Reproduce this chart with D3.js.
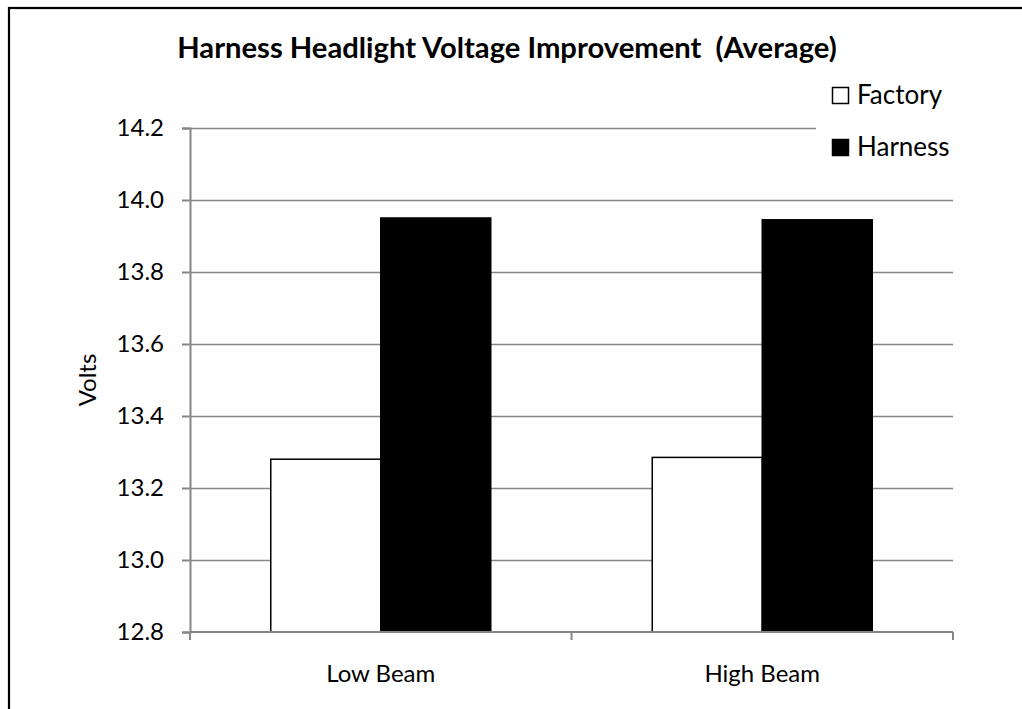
<!DOCTYPE html>
<html><head><meta charset="utf-8">
<script src="https://cdn.jsdelivr.net/npm/d3@7"></script>
<style>body{margin:0;background:#fff;} svg{display:block;} text{white-space:pre;}</style>
</head><body>
<script>
const categories = ["Low Beam", "High Beam"];
const seriesNames = ["Factory", "Harness"];
const factoryValues = [13.28, 13.285];
const harnessValues = [13.95, 13.945];
const yTicks = [12.8, 13.0, 13.2, 13.4, 13.6, 13.8, 14.0, 14.2];
const titleText = "Harness Headlight Voltage Improvement  (Average)";
const yLabel = "Volts";

const W = 1022, H = 709;
const FONT = "Lato, 'Liberation Sans', sans-serif";
const svg = d3.select("body").append("svg").attr("width", W).attr("height", H);
svg.append("rect").attr("width", W).attr("height", H).attr("fill", "#fff");
// outer border
svg.append("rect").attr("x", 9).attr("y", 8).attr("width", W + 20).attr("height", H + 20)
  .attr("fill", "none").attr("stroke", "#000").attr("stroke-width", 2.2);

const L = 190, R = 953, T = 128, B = 632;
const y = d3.scaleLinear().domain([12.8, 14.2]).range([B, T]);
const x0 = d3.scaleBand().domain(categories).range([L, R]).paddingInner(0).paddingOuter(0);
const barW = 110;
const x1 = d3.scaleBand().domain(seriesNames).range([0, barW * 2]);
const off = (x0.bandwidth() - barW * 2) / 2;
const gray = "#868686";

// gridlines
svg.append("g").selectAll("line").data(yTicks.slice(1)).join("line")
  .attr("x1", L).attr("x2", R).attr("y1", d => Math.round(y(d)) + 0.5).attr("y2", d => Math.round(y(d)) + 0.5)
  .attr("stroke", gray).attr("stroke-width", 1.6);

// bars
const data = categories.map((c, i) => ({c, vals: [factoryValues[i], harnessValues[i]]}));
const fills = ["#fff", "#000"];
const g = svg.append("g");
data.forEach(d => {
  d.vals.forEach((v, j) => {
    g.append("rect")
      .attr("x", x0(d.c) + off + x1(seriesNames[j]))
      .attr("y", y(v))
      .attr("width", x1.bandwidth())
      .attr("height", y(12.8) - y(v))
      .attr("fill", fills[j]).attr("stroke", "#000").attr("stroke-width", 1.5);
  });
});

// y axis
const yAxis = d3.axisLeft(y).tickValues(yTicks).tickFormat(d3.format(".1f")).tickSize(8).tickPadding(18);
const ya = svg.append("g").attr("transform", `translate(${L},0)`).call(yAxis);
ya.select(".domain").attr("stroke", gray).attr("stroke-width", 2);
ya.selectAll(".tick line").attr("stroke", gray).attr("stroke-width", 2);
ya.selectAll(".tick text").attr("font-family", FONT).attr("font-size", 24).attr("fill", "#000");

// x axis
const xa = svg.append("g").attr("transform", `translate(0,${B})`);
xa.append("line").attr("x1", L).attr("x2", R).attr("y1", 0).attr("y2", 0).attr("stroke", gray).attr("stroke-width", 2);
const bounds = [L, ...categories.map(c => x0(c) + x0.bandwidth())];
xa.selectAll(".xt").data(bounds).join("line")
  .attr("x1", d => d).attr("x2", d => d).attr("y1", 0).attr("y2", 8).attr("stroke", gray).attr("stroke-width", 2);
xa.selectAll(".xl").data(categories).join("text")
  .attr("x", d => x0(d) + x0.bandwidth() / 2).attr("y", 50)
  .attr("text-anchor", "middle").attr("font-family", FONT).attr("font-size", 24).attr("fill", "#000")
  .text(d => d);

// y label
svg.append("text").attr("transform", `translate(96,380) rotate(-90)`)
  .attr("text-anchor", "middle").attr("font-family", FONT).attr("font-size", 24).text(yLabel);

// title
svg.append("text").attr("x", 507).attr("y", 58).attr("text-anchor", "middle")
  .attr("font-family", FONT).attr("font-weight", "bold").attr("font-size", 29.2).text(titleText);

// legend
const lg = svg.append("g");
lg.append("rect").attr("x", 816).attr("y", 72).attr("width", 190).attr("height", 98).attr("fill", "#fff");
seriesNames.forEach((s, i) => {
  const yy = 87 + i * 52;
  lg.append("rect").attr("x", 832.5).attr("y", yy + 0.5).attr("width", 16).attr("height", 16)
    .attr("fill", fills[i]).attr("stroke", "#000").attr("stroke-width", 1.5);
  lg.append("text").attr("x", 857).attr("y", yy + 17).attr("font-family", FONT).attr("font-size", 26).text(s);
});
</script>
</body></html>
